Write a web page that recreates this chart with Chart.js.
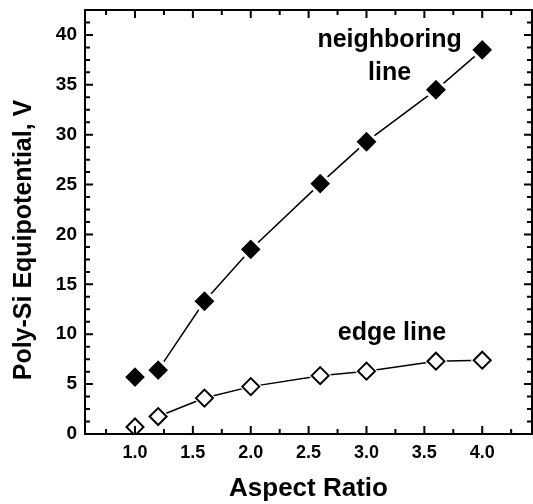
<!DOCTYPE html>
<html>
<head>
<meta charset="utf-8">
<script src="https://cdn.jsdelivr.net/npm/chart.js@4.4.1/dist/chart.umd.min.js"></script>
<style>
  html, body { margin: 0; padding: 0; background: #fff; }
  #wrap { width: 533px; height: 504px; }
</style>
</head>
<body>
<div id="wrap"><canvas id="chart" width="533" height="504"></canvas></div>
<script>
const aspectRatio = [1.0, 1.2, 1.6, 2.0, 2.6, 3.0, 3.6, 4.0];
const neighboringLine = [5.7, 6.4, 13.3, 18.5, 25.1, 29.3, 34.5, 38.5];
const edgeLine = [0.7, 1.75, 3.6, 4.75, 5.85, 6.3, 7.3, 7.4];
const xTickValues = [1.0, 1.5, 2.0, 2.5, 3.0, 3.5, 4.0];
const yTickValues = [0, 5, 10, 15, 20, 25, 30, 35, 40];

const FONT = '"Liberation Sans", Arial, Helvetica, sans-serif';

const toPoints = ys => aspectRatio.map((x, i) => ({ x: x, y: ys[i] }));

// first segment (1.0 -> 1.2) is not joined in the original
const skipFirst = ctx => ctx.p0DataIndex === 0 ? 'rgba(0,0,0,0)' : '#000';

const noPadding = s => {
  s.paddingLeft = 0; s.paddingRight = 0;
  s.paddingTop = 0; s.paddingBottom = 0;
};

// inward ticks on all four sides + frame, annotation labels, y title
const framePlugin = {
  id: 'frame',
  afterDraw(chart) {
    const { ctx, chartArea: a, scales: { x, y } } = chart;
    ctx.save();
    ctx.strokeStyle = '#000';
    ctx.lineWidth = 2;
    ctx.strokeRect(a.left, a.top, a.right - a.left, a.bottom - a.top);

    ctx.beginPath();
    for (let v = 0.75; v <= 4.25 + 1e-9; v += 0.25) {
      const px = x.getPixelForValue(v);
      const len = Math.abs(v * 2 - Math.round(v * 2)) < 1e-6 ? 8 : 5;
      ctx.moveTo(px, a.bottom); ctx.lineTo(px, a.bottom - len);
      ctx.moveTo(px, a.top); ctx.lineTo(px, a.top + len);
    }
    for (let v = 1.25; v <= 41.25 + 1e-9; v += 1.25) {
      const py = y.getPixelForValue(v);
      const len = Math.abs(v / 5 - Math.round(v / 5)) < 1e-6 ? 8 : 5;
      ctx.moveTo(a.left, py); ctx.lineTo(a.left + len, py);
      ctx.moveTo(a.right, py); ctx.lineTo(a.right - len, py);
    }
    ctx.stroke();

    ctx.fillStyle = '#000';
    ctx.font = 'bold 25px ' + FONT;
    ctx.textAlign = 'center';
    ctx.textBaseline = 'middle';
    ctx.fillText('neighboring', x.getPixelForValue(3.2), y.getPixelForValue(39.5));
    ctx.fillText('line', x.getPixelForValue(3.2), y.getPixelForValue(36.2));
    ctx.fillText('edge line', x.getPixelForValue(3.22), y.getPixelForValue(10.1));

    ctx.translate(24, 240);
    ctx.rotate(-Math.PI / 2);
    ctx.font = 'bold 25px ' + FONT;
    ctx.fillText('Poly-Si Equipotential, V', 0, 0);
    ctx.restore();
  }
};

new Chart(document.getElementById('chart'), {
  type: 'scatter',
  data: {
    datasets: [
      {
        // filled diamonds with a white rim so the line stops short
        label: 'neighboring line',
        data: toPoints(neighboringLine),
        showLine: true,
        borderColor: '#000',
        borderWidth: 1.5,
        segment: { borderColor: skipFirst },
        pointStyle: 'rectRot',
        pointRadius: 12,
        pointBackgroundColor: '#000',
        pointBorderColor: '#fff',
        pointBorderWidth: 3,
        order: 2
      },
      {
        label: 'edge gap',
        data: toPoints(edgeLine),
        showLine: true,
        borderColor: '#000',
        borderWidth: 1.5,
        segment: { borderColor: skipFirst },
        pointStyle: 'rectRot',
        pointRadius: 11.5,
        pointBackgroundColor: '#fff',
        pointBorderWidth: 0,
        order: 3
      },
      {
        label: 'edge line',
        data: toPoints(edgeLine),
        showLine: false,
        pointStyle: 'rectRot',
        pointRadius: 8.5,
        pointBackgroundColor: '#fff',
        pointBorderColor: '#000',
        pointBorderWidth: 2,
        order: 1
      }
    ]
  },
  options: {
    responsive: false,
    animation: false,
    devicePixelRatio: 1,
    layout: { autoPadding: false, padding: { top: 10, right: 1, left: 0, bottom: 0 } },
    plugins: { legend: { display: false }, tooltip: { enabled: false } },
    scales: {
      x: {
        type: 'linear',
        min: 0.568,
        max: 4.43,
        grid: { display: false, drawTicks: false },
        border: { display: false },
        afterBuildTicks: s => { s.ticks = xTickValues.map(v => ({ value: v })); },
        afterFit: s => { s.height = 70; noPadding(s); },
        ticks: {
          padding: 8,
          color: '#000',
          font: { family: FONT, size: 18, weight: 'bold' },
          callback: v => Number(v).toFixed(1)
        },
        title: {
          display: true,
          text: 'Aspect Ratio',
          color: '#000',
          font: { family: FONT, size: 26, weight: 'bold' },
          padding: { top: 8, bottom: 0 }
        }
      },
      y: {
        type: 'linear',
        min: 0,
        max: 42.5,
        grid: { display: false, drawTicks: false },
        border: { display: false },
        afterBuildTicks: s => { s.ticks = yTickValues.map(v => ({ value: v })); },
        afterFit: s => { s.width = 85; noPadding(s); },
        ticks: {
          padding: 8,
          color: '#000',
          font: { family: FONT, size: 19, weight: 'bold' }
        }
      }
    }
  },
  plugins: [framePlugin]
});
</script>
</body>
</html>
